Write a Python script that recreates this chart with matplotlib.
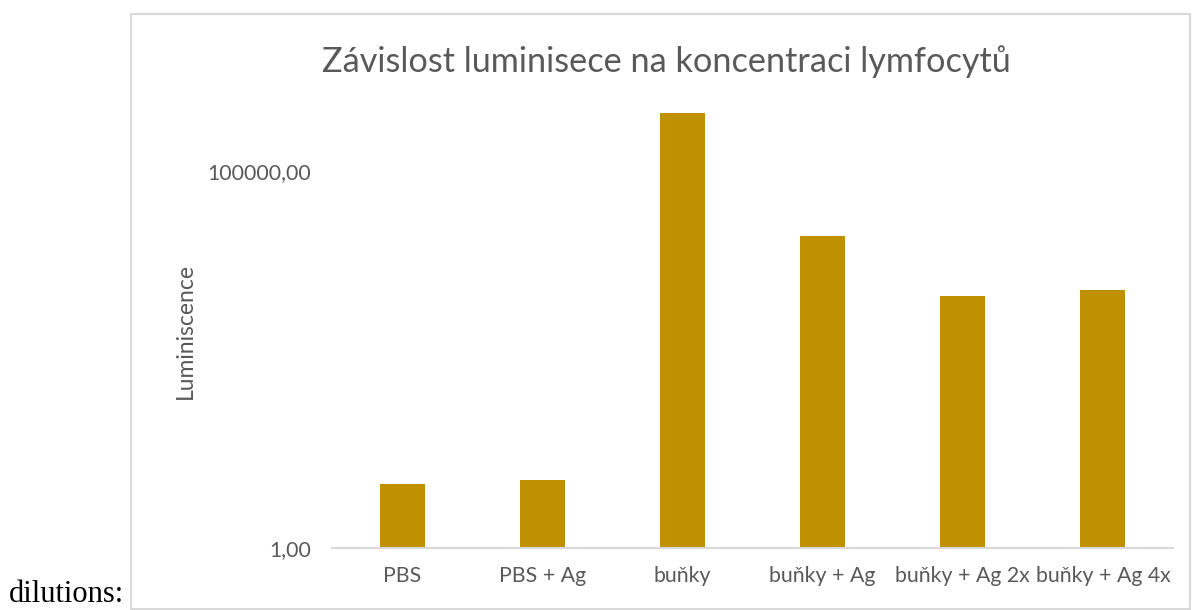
import matplotlib
matplotlib.use("Agg")
import matplotlib.pyplot as plt
from matplotlib.patches import Rectangle

categories = ["PBS", "PBS + Ag", "buňky", "buňky + Ag", "buňky + Ag 2x", "buňky + Ag 4x"]
luminiscence = [7.1, 8.0, 587000, 13700, 2200, 2640]
ytick_vals = [1, 100000]
ytick_labels = ["1,00", "100000,00"]

W, H = 1193, 610
BAR = "#BF9000"
GRID = "#D9D9D9"
TXT = "#595959"

plt.rcParams["font.family"] = ["Lato", "DejaVu Sans"]

fig = plt.figure(figsize=(W / 100, H / 100), dpi=100)

# chart frame (Excel chart object border)
fig.patches.append(Rectangle((131 / W, 1 - 609 / H), (1190 - 131) / W, (609 - 14) / H,
                             transform=fig.transFigure, fill=False,
                             edgecolor=GRID, lw=1.5))

# plot area in pixel coordinates
x0, x1, ytop, ybot = 332, 1173, 95.6, 548
ax = fig.add_axes([x0 / W, 1 - ybot / H, (x1 - x0) / W, (ybot - ytop) / H])
ax.bar(range(len(categories)), luminiscence, width=0.32, color=BAR, bottom=0)
ax.set_yscale("log")
ax.set_ylim(1, 1e6)
ax.set_xlim(-0.5, len(categories) - 0.5)
ax.set_yticks(ytick_vals)
ax.set_yticklabels(ytick_labels)
ax.minorticks_off()
ax.set_xticks(range(len(categories)))
ax.set_xticklabels(categories)
ax.tick_params(axis="both", length=0, labelsize=15.3, colors=TXT)
ax.tick_params(axis="y", pad=15)
ax.tick_params(axis="x", pad=13)
for s in ["top", "right", "left"]:
    ax.spines[s].set_visible(False)
ax.spines["bottom"].set_color(GRID)
ax.spines["bottom"].set_linewidth(1.5)

fig.text(666 / W, 1 - 62 / H, "Závislost luminisece na koncentraci lymfocytů",
         ha="center", va="center", fontsize=24.7, color=TXT)
fig.text(185 / W, 1 - 331 / H, "Luminiscence", rotation=90,
         ha="center", va="center", fontsize=16.5, color=TXT)
fig.text(9 / W, 1 - 609 / H, "dilutions:", ha="left", va="bottom",
         fontsize=22, color="black", family="Liberation Serif")

fig.savefig("out.png", dpi=100, facecolor="white")
